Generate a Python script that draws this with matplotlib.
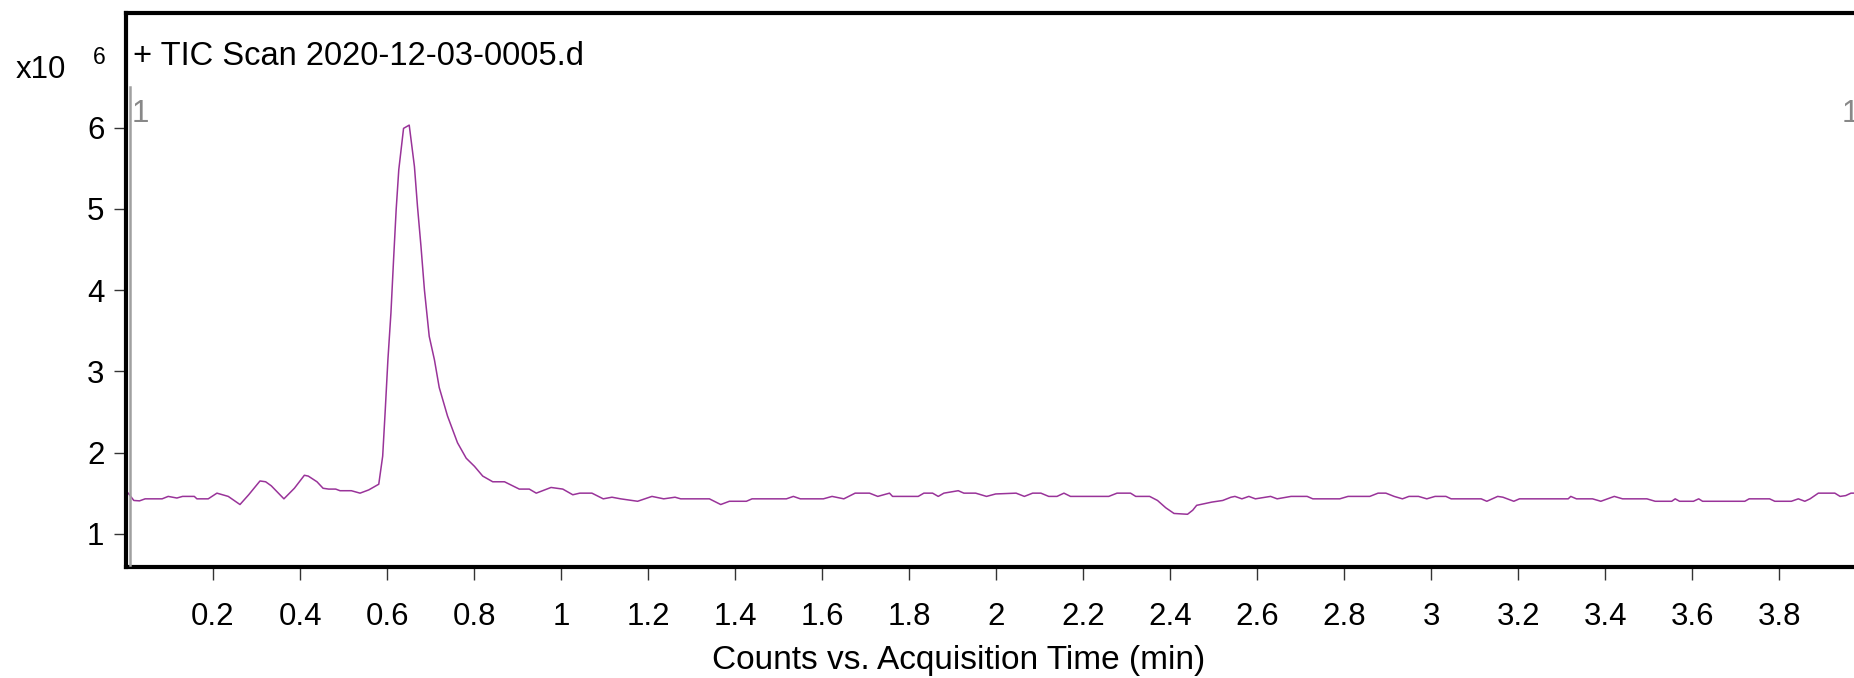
import matplotlib
matplotlib.use("Agg")
import matplotlib.pyplot as plt
from matplotlib.lines import Line2D

plt.rcParams['font.family'] = ['Liberation Sans', 'DejaVu Sans']

# Retention time (min) and TIC counts (x10^6)
time_min = [0.000, 0.005, 0.018, 0.031, 0.044, 0.083, 0.097, 0.117, 0.130, 0.157,
            0.163, 0.189, 0.209, 0.235, 0.262, 0.282, 0.308, 0.321, 0.334, 0.363,
            0.387, 0.410, 0.419, 0.439, 0.453, 0.466, 0.482, 0.492, 0.518, 0.538,
            0.558, 0.581, 0.590, 0.596, 0.602, 0.609, 0.615, 0.621, 0.627, 0.638,
            0.651, 0.663, 0.670, 0.678, 0.686, 0.697, 0.709, 0.720, 0.739, 0.762,
            0.782, 0.801, 0.820, 0.843, 0.870, 0.904, 0.927, 0.943, 0.977, 1.004,
            1.027, 1.043, 1.071, 1.097, 1.117, 1.137, 1.176, 1.209, 1.236, 1.262,
            1.275, 1.341, 1.367, 1.387, 1.426, 1.439, 1.518, 1.534, 1.550, 1.603,
            1.623, 1.650, 1.676, 1.709, 1.728, 1.755, 1.762, 1.821, 1.834, 1.854,
            1.867, 1.880, 1.913, 1.926, 1.953, 1.978, 1.999, 2.046, 2.065, 2.084,
            2.103, 2.121, 2.140, 2.156, 2.171, 2.259, 2.278, 2.309, 2.321, 2.353,
            2.371, 2.390, 2.409, 2.440, 2.452, 2.461, 2.478, 2.496, 2.521, 2.540,
            2.549, 2.565, 2.581, 2.596, 2.631, 2.646, 2.678, 2.715, 2.728, 2.790,
            2.809, 2.859, 2.878, 2.896, 2.915, 2.934, 2.949, 2.971, 2.990, 3.009,
            3.034, 3.046, 3.115, 3.128, 3.153, 3.165, 3.190, 3.203, 3.315, 3.321,
            3.334, 3.371, 3.390, 3.421, 3.440, 3.496, 3.515, 3.553, 3.561, 3.571,
            3.603, 3.615, 3.624, 3.721, 3.731, 3.778, 3.790, 3.828, 3.844, 3.859,
            3.871, 3.890, 3.909, 3.928, 3.940, 3.953, 3.965, 3.975]
counts_e6 = [1.52, 1.50, 1.41, 1.405, 1.43, 1.43, 1.46, 1.44, 1.46, 1.46,
             1.43, 1.43, 1.50, 1.46, 1.36, 1.48, 1.65, 1.64, 1.59, 1.43,
             1.56, 1.72, 1.71, 1.64, 1.56, 1.55, 1.55, 1.53, 1.53, 1.50,
             1.54, 1.61, 1.955, 2.53, 3.14, 3.72, 4.37, 4.99, 5.48, 5.99,
             6.03, 5.52, 5.03, 4.54, 4.00, 3.43, 3.14, 2.80, 2.45, 2.12,
             1.93, 1.83, 1.71, 1.64, 1.64, 1.55, 1.55, 1.50, 1.57, 1.55,
             1.48, 1.50, 1.50, 1.43, 1.45, 1.43, 1.40, 1.46, 1.43, 1.45,
             1.43, 1.43, 1.36, 1.40, 1.40, 1.43, 1.43, 1.46, 1.43, 1.43,
             1.46, 1.43, 1.50, 1.50, 1.46, 1.50, 1.46, 1.46, 1.50, 1.50,
             1.46, 1.50, 1.53, 1.50, 1.50, 1.46, 1.49, 1.50, 1.46, 1.50,
             1.50, 1.46, 1.46, 1.50, 1.46, 1.46, 1.50, 1.50, 1.46, 1.46,
             1.41, 1.32, 1.25, 1.24, 1.29, 1.35, 1.37, 1.39, 1.41, 1.45,
             1.46, 1.43, 1.46, 1.43, 1.46, 1.43, 1.46, 1.46, 1.43, 1.43,
             1.46, 1.46, 1.50, 1.50, 1.46, 1.43, 1.46, 1.46, 1.43, 1.46,
             1.46, 1.43, 1.43, 1.40, 1.46, 1.45, 1.40, 1.43, 1.43, 1.46,
             1.43, 1.43, 1.40, 1.46, 1.43, 1.43, 1.40, 1.40, 1.43, 1.40,
             1.40, 1.43, 1.40, 1.40, 1.43, 1.43, 1.40, 1.40, 1.43, 1.40,
             1.43, 1.50, 1.50, 1.50, 1.46, 1.47, 1.50, 1.50]

x_ticks = [0.2, 0.4, 0.6, 0.8, 1, 1.2, 1.4, 1.6, 1.8, 2, 2.2, 2.4, 2.6, 2.8,
           3, 3.2, 3.4, 3.6, 3.8]
x_tick_labels = ['0.2', '0.4', '0.6', '0.8', '1', '1.2', '1.4', '1.6', '1.8', '2',
                 '2.2', '2.4', '2.6', '2.8', '3', '3.2', '3.4', '3.6', '3.8']
y_ticks = [1, 2, 3, 4, 5, 6]
y_tick_labels = ['1', '2', '3', '4', '5', '6']

title_text = '+ TIC Scan 2020-12-03-0005.d'
x_label = 'Counts vs. Acquisition Time (min)'

FS = 22.5
W, H = 1854, 678
fig = plt.figure(figsize=(W / 100, H / 100), dpi=100)
left_px, right_px, top_px, bottom_px = 126, 1854, 13, 567
ax = fig.add_axes([left_px / W, 1 - bottom_px / H, (right_px - left_px) / W,
                   (bottom_px - top_px) / H])

ax.plot(time_min, counts_e6, color='#993399', lw=1.1, solid_joinstyle='round')
ax.set_xlim(0, 3.972)
ax.set_ylim(0.591, 7.41)

ax.set_xticks(x_ticks)
ax.set_xticklabels(x_tick_labels)
ax.set_yticks(y_ticks)
ax.set_yticklabels(y_tick_labels)

for side in ['left', 'bottom', 'top']:
    ax.spines[side].set_linewidth(3.0)
    ax.spines[side].set_color('black')
ax.spines['right'].set_visible(False)

ax.tick_params(axis='x', direction='out', length=9, width=1.0, labelsize=FS,
               pad=16, color='#333333')
ax.tick_params(axis='y', direction='out', length=9, width=1.0, labelsize=FS,
               pad=6.5, color='#333333')

# gray marker along inner left edge
fig.add_artist(Line2D([129.5 / W, 129.5 / W], [1 - 87 / H, 1 - 565 / H],
                      color='#a0a0a0', lw=1.8))

fig.text(133 / W, 1 - 65 / H, title_text, fontsize=23.5, va='baseline', ha='left')
fig.text(16 / W, 1 - 78 / H, 'x10', fontsize=FS, va='baseline', ha='left')
fig.text(93 / W, 1 - 64 / H, '6', fontsize=16.5, va='baseline', ha='left')
fig.text(131.5 / W, 1 - 121.5 / H, '1', fontsize=FS, color='#888888',
         va='baseline', ha='left')
fig.text(1842 / W, 1 - 121.5 / H, '1', fontsize=FS, color='#888888',
         va='baseline', ha='left')
fig.text(1205 / W, 1 - 669 / H, x_label, fontsize=24, va='baseline', ha='right')

fig.savefig('out.png', dpi=100)
